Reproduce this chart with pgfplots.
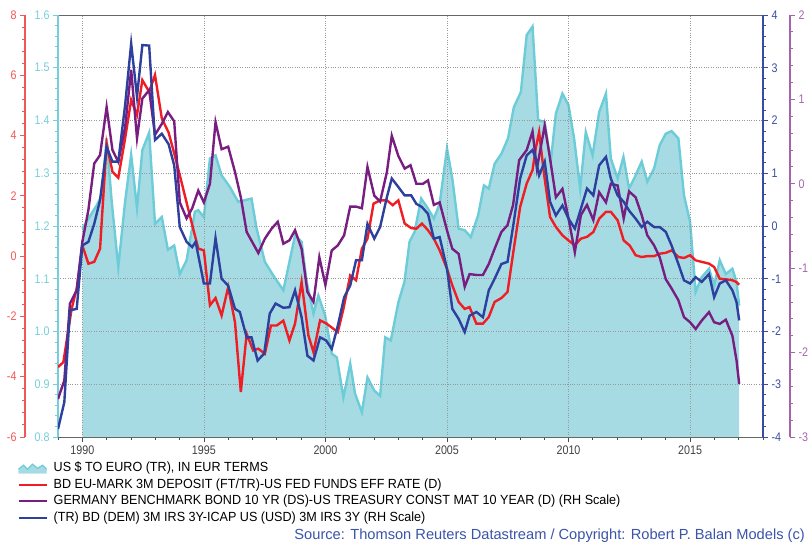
\documentclass[border=0pt]{standalone}
\usepackage{fontspec}
\setmainfont{Liberation Sans}[FakeStretch=0.86]
\newfontfamily\legfont{Liberation Sans}[FakeStretch=0.95]
\newfontfamily\srcfont{Liberation Sans}
\usepackage{pgfplots}
\usepackage{pgfplotstable}
\pgfplotsset{compat=1.18}
\definecolor{cyanfill}{RGB}{166,219,228}
\definecolor{cyanline}{RGB}{108,204,216}
\definecolor{cyanaxis}{RGB}{118,206,218}
\definecolor{redline}{RGB}{240,30,36}
\definecolor{redaxis}{RGB}{240,88,88}
\definecolor{blueline}{RGB}{46,64,158}
\definecolor{blueaxis}{RGB}{58,76,160}
\definecolor{purpleline}{RGB}{120,30,128}
\definecolor{purpleaxis}{RGB}{165,100,172}
\definecolor{srcblue}{RGB}{58,84,168}

\pgfplotstableread{
x y
1990.00 1.195
1990.25 1.214
1990.59 1.239
1990.80 1.258
1991.00 1.366
1991.21 1.246
1991.48 1.122
1991.76 1.246
1992.01 1.335
1992.25 1.234
1992.47 1.344
1992.75 1.377
1992.99 1.204
1993.27 1.217
1993.52 1.155
1993.78 1.163
1994.01 1.109
1994.29 1.135
1994.63 1.227
1994.77 1.230
1995.00 1.217
1995.25 1.328
1995.48 1.334
1995.73 1.296
1996.07 1.274
1996.41 1.246
1996.96 1.252
1997.17 1.195
1997.51 1.132
1997.86 1.106
1998.27 1.078
1998.75 1.182
1999.02 1.170
1999.23 1.094
1999.51 1.034
1999.71 1.068
1999.99 1.030
2000.26 0.958
2000.47 0.951
2000.74 0.875
2001.02 0.939
2001.22 0.882
2001.50 0.847
2001.73 0.913
2002.01 0.888
2002.25 0.878
2002.46 0.989
2002.69 0.983
2003.00 1.055
2003.25 1.094
2003.46 1.170
2003.67 1.189
2003.94 1.252
2004.22 1.233
2004.46 1.214
2004.70 1.242
2005.00 1.347
2005.22 1.290
2005.48 1.195
2005.73 1.192
2005.98 1.179
2006.28 1.220
2006.52 1.277
2006.72 1.271
2006.96 1.318
2007.24 1.337
2007.51 1.366
2007.75 1.425
2008.04 1.454
2008.28 1.562
2008.52 1.578
2008.75 1.401
2009.02 1.397
2009.27 1.322
2009.48 1.413
2009.75 1.451
2010.00 1.429
2010.23 1.366
2010.48 1.271
2010.71 1.378
2010.99 1.334
2011.26 1.416
2011.54 1.451
2011.74 1.328
2012.02 1.290
2012.26 1.331
2012.49 1.271
2012.73 1.293
2013.01 1.322
2013.24 1.284
2013.52 1.309
2013.75 1.353
2014.00 1.375
2014.24 1.380
2014.52 1.366
2014.75 1.258
2015.00 1.208
2015.23 1.075
2015.48 1.103
2015.78 1.119
2015.99 1.087
2016.22 1.135
2016.47 1.109
2016.74 1.119
2016.91 1.094
2017.02 1.049
}\cyantab

\pgfplotstableread{
x y
1989.00 -3.68
1989.22 -3.52
1989.56 -1.75
1989.77 -1.08
1990.00 0.36
1990.25 -0.25
1990.49 -0.19
1990.73 0.25
1991.00 3.74
1991.24 2.80
1991.48 2.60
1991.76 3.90
1992.01 5.18
1992.25 4.68
1992.47 5.84
1992.75 5.45
1992.99 6.01
1993.27 4.57
1993.55 4.10
1993.80 3.35
1994.08 2.46
1994.35 1.58
1994.56 0.91
1994.77 0.25
1995.00 0.19
1995.25 -1.63
1995.48 -1.39
1995.73 -1.97
1996.00 -1.03
1996.28 -2.19
1996.52 -4.51
1996.76 -2.58
1997.03 -3.13
1997.24 -3.07
1997.51 -3.24
1997.76 -2.30
1998.00 -2.30
1998.27 -2.14
1998.52 -2.80
1998.75 -2.24
1999.02 -0.86
1999.30 -2.63
1999.51 -3.19
1999.78 -2.13
2000.05 -2.24
2000.51 -2.52
2000.74 -1.75
2001.02 -0.64
2001.26 -0.80
2001.50 0.25
2001.73 0.58
2001.98 1.74
2002.25 1.85
2002.53 1.85
2002.77 1.69
2003.00 1.85
2003.26 1.08
2003.53 0.93
2003.74 0.91
2003.97 1.08
2004.22 0.86
2004.46 0.58
2004.70 0.19
2005.00 -0.42
2005.22 -0.97
2005.48 -1.52
2005.73 -1.75
2005.93 -1.69
2006.21 -2.24
2006.48 -2.24
2006.72 -2.02
2006.96 -1.52
2007.24 -1.39
2007.49 -1.19
2007.75 0.25
2008.01 1.63
2008.28 2.41
2008.52 2.85
2008.65 3.57
2008.79 4.12
2009.00 2.68
2009.24 1.30
2009.48 0.97
2009.75 0.69
2010.00 0.52
2010.26 0.36
2010.51 0.58
2010.76 0.64
2011.02 0.80
2011.26 1.24
2011.54 1.47
2011.74 1.47
2012.02 1.19
2012.27 0.52
2012.52 0.35
2012.76 0.03
2013.01 -0.03
2013.24 0.00
2013.52 0.00
2013.75 0.08
2014.00 0.11
2014.24 0.19
2014.52 -0.03
2014.75 -0.06
2015.00 0.03
2015.23 -0.14
2015.48 -0.19
2015.78 -0.25
2015.99 -0.36
2016.22 -0.75
2016.47 -0.77
2016.74 -0.80
2016.91 -0.86
2017.02 -0.95
}\redtab

\pgfplotstableread{
x y
1989.00 -2.55
1989.26 -2.33
1989.49 -1.42
1989.77 -1.26
1990.00 -0.69
1990.25 -0.31
1990.49 0.24
1990.73 0.34
1991.00 0.91
1991.24 0.40
1991.48 0.26
1991.76 0.67
1992.01 1.35
1992.25 0.54
1992.47 1.01
1992.75 1.11
1992.99 0.58
1993.27 0.71
1993.52 0.85
1993.78 0.74
1994.01 -0.22
1994.29 -0.41
1994.52 -0.29
1994.77 -0.08
1995.00 -0.22
1995.25 0.00
1995.48 0.73
1995.73 0.41
1996.00 0.44
1996.28 0.14
1996.52 -0.16
1996.76 -0.57
1996.99 -0.69
1997.24 -0.82
1997.51 -0.65
1997.79 -0.53
1998.04 -0.45
1998.27 -0.71
1998.52 -0.67
1998.75 -0.55
1999.02 -0.77
1999.26 -1.28
1999.51 -1.40
1999.75 -0.87
2000.00 -1.20
2000.26 -0.79
2000.51 -0.73
2000.77 -0.61
2001.02 -0.27
2001.26 -0.27
2001.50 -0.29
2001.73 0.20
2002.01 -0.14
2002.25 -0.21
2002.53 0.14
2002.73 0.57
2003.00 0.33
2003.26 0.18
2003.50 0.22
2003.74 0.00
2004.01 0.00
2004.22 0.04
2004.46 -0.25
2004.70 -0.22
2005.00 -0.55
2005.22 -0.77
2005.48 -0.83
2005.73 -1.22
2005.93 -1.07
2006.21 -1.08
2006.48 -1.08
2006.72 -0.95
2006.96 -0.77
2007.24 -0.57
2007.49 -0.49
2007.72 -0.25
2007.97 0.28
2008.28 0.40
2008.52 0.62
2008.70 0.18
2009.02 0.69
2009.24 0.30
2009.48 -0.16
2009.75 -0.06
2010.00 -0.41
2010.26 -0.81
2010.51 -0.37
2010.76 -0.25
2011.02 -0.43
2011.26 -0.10
2011.54 -0.22
2011.74 0.00
2012.02 -0.02
2012.27 -0.41
2012.49 -0.09
2012.76 -0.16
2013.01 -0.37
2013.24 -0.61
2013.52 -0.73
2013.75 -0.87
2014.00 -1.13
2014.24 -1.24
2014.52 -1.38
2014.75 -1.58
2015.00 -1.64
2015.23 -1.72
2015.48 -1.62
2015.78 -1.52
2015.99 -1.64
2016.22 -1.66
2016.47 -1.61
2016.74 -1.80
2016.91 -2.09
2017.02 -2.37
}\purpletab

\pgfplotstableread{
x y
1989.00 -3.85
1989.26 -3.34
1989.49 -1.60
1989.77 -1.57
1990.00 -0.37
1990.25 -0.30
1990.49 0.04
1990.73 0.49
1991.00 1.50
1991.24 1.22
1991.48 1.22
1991.76 2.29
1992.01 3.46
1992.25 2.45
1992.47 3.43
1992.75 3.42
1992.99 1.63
1993.27 1.75
1993.55 1.55
1993.78 1.15
1994.01 -0.02
1994.29 -0.30
1994.52 -0.40
1994.66 -0.30
1995.00 -1.09
1995.25 -1.09
1995.48 -0.23
1995.73 -1.00
1996.00 -1.13
1996.28 -1.57
1996.48 -1.63
1996.76 -2.11
1996.96 -2.11
1997.21 -2.55
1997.48 -2.42
1997.71 -1.66
1997.95 -1.47
1998.27 -1.55
1998.52 -1.54
1998.75 -1.22
1999.02 -1.73
1999.26 -2.46
1999.51 -2.55
1999.78 -2.11
2000.03 -2.17
2000.26 -2.33
2000.51 -1.89
2000.77 -1.35
2001.02 -1.13
2001.26 -0.65
2001.50 -0.65
2001.73 0.04
2002.01 -0.24
2002.25 -0.02
2002.53 0.55
2002.73 0.90
2003.00 0.74
2003.26 0.58
2003.53 0.58
2003.74 0.42
2003.97 0.36
2004.22 0.23
2004.46 -0.24
2004.70 -0.21
2005.00 -0.81
2005.22 -1.57
2005.48 -1.76
2005.73 -2.01
2005.93 -1.70
2006.21 -1.63
2006.48 -1.73
2006.72 -1.22
2006.96 -1.00
2007.24 -0.72
2007.49 -0.68
2007.74 0.05
2008.01 0.90
2008.28 1.34
2008.52 1.44
2008.65 1.28
2008.79 0.96
2009.02 1.22
2009.24 0.46
2009.48 0.20
2009.75 0.39
2010.00 0.14
2010.26 -0.05
2010.51 0.33
2010.76 0.71
2011.02 0.58
2011.26 1.15
2011.54 1.31
2011.74 0.90
2012.02 0.58
2012.27 0.46
2012.51 0.28
2012.76 0.14
2013.01 -0.02
2013.24 0.08
2013.52 -0.02
2013.75 -0.02
2014.00 -0.11
2014.24 -0.37
2014.52 -0.72
2014.75 -1.03
2015.00 -1.09
2015.23 -0.97
2015.48 -1.06
2015.78 -0.91
2015.99 -1.35
2016.22 -1.09
2016.47 -1.03
2016.74 -1.22
2016.91 -1.44
2017.02 -1.79
}\bluetab

\pgfplotsset{
  base/.style={
    at={(58bp,105bp)}, anchor=south west,
    width=705bp, height=422bp, scale only axis,
    xmin=1989, xmax=2018,
    /pgf/number format/assume math mode=true,
    tick align=outside,
    major tick length=5bp, minor tick length=3bp,
    tick label style={font=\fontsize{12.5}{13}\selectfont},
  },
  scaleaxis/.style={
    at={(#1,105bp)}, width=20bp, height=422bp, scale only axis,
    xmin=0, xmax=1, axis x line=none,
    /pgf/number format/assume math mode=true,
    tick align=outside,
    major tick length=5bp, minor tick length=3bp,
    tick label style={font=\fontsize{12.5}{13}\selectfont},
    minor y tick num=4,
  },
}

\begin{document}
\begin{tikzpicture}
\useasboundingbox (0,0) rectangle (811bp,542bp);

% cyan (frame, grid, area)
\begin{axis}[base,
  ymin=0.8, ymax=1.6,
  separate axis lines,
  x axis line style={draw=black!60, line width=0.8bp},
  y axis line style={draw=cyanaxis, line width=1.3bp},
  xtick={1990,1995,2000,2005,2010,2015},
  minor xtick={1989,1991,1992,1993,1994,1996,1997,1998,1999,2001,2002,2003,2004,2006,2007,2008,2009,2011,2012,2013,2014,2016,2017,2018},
  xtick pos=bottom, ytick pos=left,
  xticklabel style={/pgf/number format/1000 sep=, text=black!75},
  x tick style={black!70, line width=0.7bp},
  ytick={0.8,0.9,1.0,1.1,1.2,1.3,1.4,1.5,1.6},
  minor y tick num=4,
  yticklabel style={/pgf/number format/.cd, fixed, fixed zerofill, precision=1, /tikz/.cd, text=cyanaxis},
  y tick style={cyanaxis, line width=0.9bp},
  grid=major,
  major grid style={dotted, black!40, line width=0.7bp},
  axis on top,
  legend image code/.code={\draw[#1] (0bp,0bp) -- (28bp,0bp);},
  legend style={at={(-0.058,-0.057)}, anchor=north west, draw=none, fill=none,
    inner sep=0pt, row sep=2.5bp,
    font=\legfont\fontsize{13.3}{15}\selectfont,
    nodes={inner sep=1bp, text height=9.5bp, text depth=2.5bp},
    /tikz/every odd column/.append style={column sep=5bp}},
  legend cell align=left,
]
\addplot[fill=cyanfill, draw=none, forget plot] table {\cyantab} \closedcycle;
\addplot[cyanline, line width=2.4bp, forget plot] table {\cyantab};
\addlegendimage{legend image code/.code={
  \fill[cyanfill] (0bp,-5bp) -- (0bp,-1bp) -- (5bp,3bp) -- (9bp,-1bp) -- (14bp,4bp) -- (19bp,0bp) -- (24bp,3bp) -- (28bp,-1bp) -- (28bp,-5bp) -- cycle;
  \draw[cyanline, line width=1.2bp] (0bp,-1bp) -- (5bp,3bp) -- (9bp,-1bp) -- (14bp,4bp) -- (19bp,0bp) -- (24bp,3bp) -- (28bp,-1bp);}}
\addlegendentry{US \$ TO EURO (TR), IN EUR TERMS}
\addlegendimage{redline, line width=2.4bp}
\addlegendentry{BD EU-MARK 3M DEPOSIT (FT/TR)-US FED FUNDS EFF RATE (D)}
\addlegendimage{purpleline, line width=2.4bp}
\addlegendentry{GERMANY BENCHMARK BOND 10 YR (DS)-US TREASURY CONST MAT 10 YEAR (D) (RH Scale)}
\addlegendimage{blueline, line width=2.4bp}
\addlegendentry{(TR) BD (DEM) 3M IRS 3Y-ICAP US (USD) 3M IRS 3Y (RH Scale)}
\end{axis}

% red data
\begin{axis}[base, ymin=-6, ymax=8, hide axis]
\addplot[redline, line width=2.4bp] table {\redtab};
\end{axis}

% purple data
\begin{axis}[base, ymin=-3, ymax=2, hide axis]
\addplot[purpleline, line width=2.4bp] table {\purpletab};
\end{axis}

% blue data + right axis
\begin{axis}[base, ymin=-4, ymax=4,
  axis x line=none, axis y line*=right,
  y axis line style={draw=blueaxis, line width=1.3bp},
  ytick={-4,-3,-2,-1,0,1,2,3,4}, minor y tick num=4,
  yticklabel style={text=blueaxis},
  y tick style={blueaxis, line width=0.9bp},
]
\addplot[blueline, line width=2.4bp] table {\bluetab};
\end{axis}

% red scale (far left)
\begin{axis}[scaleaxis=25bp, anchor=south west,
  ymin=-6, ymax=8, axis y line*=left,
  y axis line style={draw=redaxis, line width=1.3bp},
  ytick={-6,-4,-2,0,2,4,6,8},
  yticklabel style={text=redaxis},
  y tick style={redaxis, line width=0.9bp},
]
\end{axis}

% purple scale (far right)
\begin{axis}[scaleaxis=790bp, anchor=south east,
  ymin=-3, ymax=2, axis y line*=right,
  y axis line style={draw=purpleaxis, line width=1.3bp},
  ytick={-3,-2,-1,0,1,2},
  yticklabel style={text=purpleaxis},
  y tick style={purpleaxis, line width=0.9bp},
]
\end{axis}

\node[anchor=base east, text=srcblue, font=\srcfont\fontsize{14.7}{16}\selectfont, inner sep=0pt] at (805bp,3bp)
  {Source: Thomson Reuters Datastream / Copyright: Robert P. Balan Models (c)};
\end{tikzpicture}
\end{document}
